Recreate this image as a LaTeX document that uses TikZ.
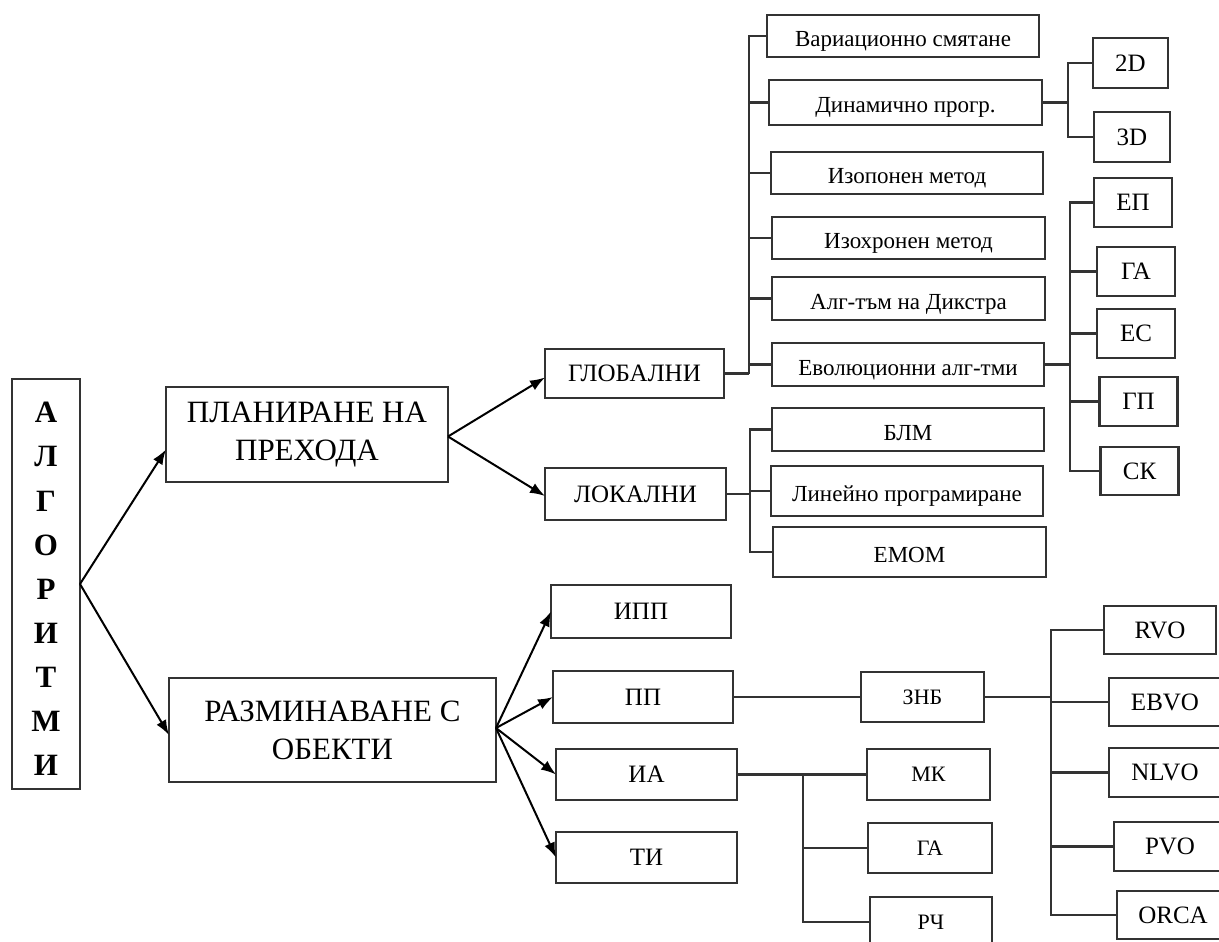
\documentclass[tikz,border=0pt]{standalone}
\usepackage{fontspec}
\setmainfont{Liberation Serif}
\usetikzlibrary{arrows.meta,calc}

\begin{document}
\begin{tikzpicture}[x=1pt,y=-1pt,
  box/.style={draw=black!80, line width=2.1pt, inner sep=0pt, outer sep=0pt, align=center, fill=white},
  tree/.style={draw=black!80, line width=2.1pt},
  arr/.style={draw=black, line width=2pt, -{Latex[length=15pt,width=11pt]}},
  big/.style={font=\fontsize{31}{38}\selectfont},
  mid/.style={font=\fontsize{25}{28}\selectfont},
  lbl/.style={font=\fontsize{23}{26}\selectfont, text height=21pt, text depth=0pt},
  sml/.style={font=\fontsize{22}{24}\selectfont},
  wide/.style={minimum width=272pt},
  narrow/.style={minimum width=78pt, minimum height=49pt},
  side/.style={minimum width=112pt, minimum height=48pt},
]
\useasboundingbox (0,0) rectangle (1219,942);
\fill[white] (0,0) rectangle (1219,942);

% root and the two main branches
\node[box, minimum width=68pt, minimum height=410pt] (alg) at (46,584) {};
\node[inner sep=0pt, align=center, font=\fontsize{31}{44.1}\selectfont\bfseries] (algtext)
      at ([yshift=-5pt]alg.center) {А\\Л\\Г\\О\\Р\\И\\Т\\М\\И};
\node[box, big, minimum width=282pt, minimum height=95pt] (plan) at (307,434.5) {ПЛАНИРАНЕ НА\\ПРЕХОДА};
\node[box, big, minimum width=327pt, minimum height=104pt] (razm) at (332.5,730) {РАЗМИНАВАНЕ С\\ОБЕКТИ};

% path planning
\node[box, mid, minimum width=179pt, minimum height=49pt] (glob) at (634.5,373.5) {ГЛОБАЛНИ};
\node[box, mid, minimum width=181pt, minimum height=52pt] (lok) at (635.5,494) {ЛОКАЛНИ};

\node[box, lbl, wide, minimum height=42pt] (var) at (903,36) {Вариационно смятане};
\node[box, lbl, minimum width=273pt, minimum height=45pt] (din) at (905.5,102.5) {Динамично прогр.};
\node[box, lbl, wide, minimum height=42pt] (izop) at (907,173) {Изопонен метод};
\node[box, lbl, minimum width=273pt, minimum height=42pt] (izoh) at (908.5,238) {Изохронен метод};
\node[box, lbl, minimum width=273pt, minimum height=43pt] (dijk) at (908.5,298.5) {Алг-тъм на Дикстра};
\node[box, lbl, wide, minimum height=43pt] (evo) at (908,364.5) {Еволюционни алг-тми};

\node[box, lbl, wide, minimum height=43pt] (blm) at (908,429.5) {БЛМ};
\node[box, lbl, wide, minimum height=50pt] (lin) at (907,491) {Линейно програмиране};
\node[box, lbl, minimum width=273pt, minimum height=50pt] (emom) at (909.5,552) {ЕМОМ};

\node[box, mid, minimum width=75pt, minimum height=50pt] (d2) at (1130.5,63) {2D};
\node[box, mid, minimum width=76pt, minimum height=50pt] (d3) at (1132,137) {3D};

\node[box, mid, narrow] (ep) at (1133,202.5) {ЕП};
\node[box, mid, narrow] (ga) at (1136,271.5) {ГА};
\node[box, mid, narrow] (es) at (1136,333.5) {ЕС};
\node[box, mid, narrow] (gp) at (1138.5,401.5) {ГП};
\node[box, mid, narrow, minimum height=48pt] (sk) at (1139.5,471) {СК};

% obstacle avoidance
\node[box, mid, minimum width=180pt, minimum height=53pt] (ipp) at (641,611.5) {ИПП};
\node[box, mid, minimum width=180pt, minimum height=52pt] (pp) at (643,697) {ПП};
\node[box, mid, minimum width=181pt, minimum height=51pt] (ia) at (646.5,774.5) {ИА};
\node[box, mid, minimum width=181pt, minimum height=51pt] (ti) at (646.5,857.5) {ТИ};

\node[box, sml, minimum width=123pt, minimum height=50pt] (znb) at (922.5,697) {ЗНБ};
\node[box, sml, minimum width=123pt, minimum height=51pt] (mk) at (928.5,774.5) {МК};
\node[box, sml, minimum width=124pt, minimum height=50pt] (ga2) at (930,848) {ГА};
\node[box, sml, minimum width=122pt, minimum height=50pt] (rch) at (931,922) {РЧ};

\node[box, mid, side] (rvo) at (1160,630) {RVO};
\node[box, mid, side] (ebvo) at (1165,702) {EBVO};
\node[box, mid, side, minimum height=49pt] (nlvo) at (1165,772.5) {NLVO};
\node[box, mid, side, minimum height=49pt] (pvo) at (1170,846.5) {PVO};
\node[box, mid, side] (orca) at (1173,915) {ORCA};

% arrows
\draw[arr] (alg.east) -- ([yshift=-15pt]plan.west);
\draw[arr] (alg.east) -- ([yshift=-5pt]razm.west);
\draw[arr] ([yshift=-2pt]plan.east) -- ([yshift=-4pt]glob.west);
\draw[arr] ([yshift=-2pt]plan.east) -- ([yshift=-2pt]lok.west);
\draw[arr] ([yshift=2pt]razm.east) -- (ipp.west);
\draw[arr] ([yshift=2pt]razm.east) -- (pp.west);
\draw[arr] ([yshift=2pt]razm.east) -- (ia.west);
\draw[arr] ([yshift=2pt]razm.east) -- (ti.west);

% tree connectors
\draw[tree] (glob.east) -- ++(25,0) coordinate (gb);
\foreach \n in {var,din,izop,izoh,dijk,evo} \draw[tree] (gb) |- (\n.west);

\draw[tree, line width=2.8pt] (lok.east) -- ++(24,0) coordinate (lb);
\foreach \n in {blm,lin,emom} \draw[tree] (lb) |- (\n.west);

\draw[tree] (din.east) -- ++(26,0) coordinate (db);
\foreach \n in {d2,d3} \draw[tree] (db) |- (\n.west);

\draw[tree] (evo.east) -- ++(26,0) coordinate (eb);
\foreach \n in {ep,ga,es,gp,sk} \draw[tree] (eb) |- (\n.west);

\draw[tree] (pp.east) -- (znb.west);

\draw[tree] (znb.east) -- ++(67,0) coordinate (zb);
\foreach \n in {rvo,ebvo,nlvo,pvo,orca} \draw[tree] (zb) |- (\n.west);

\draw[tree] (ia.east) -- ++(66,0) coordinate (ib);
\foreach \n in {mk,ga2,rch} \draw[tree] (ib) |- (\n.west);
\end{tikzpicture}
\end{document}
